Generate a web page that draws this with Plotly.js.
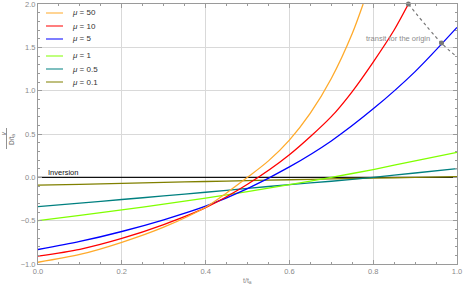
<!DOCTYPE html>
<html><head><meta charset="utf-8">
<script src="https://cdn.plot.ly/plotly-3.0.1.min.js"></script>
<style>html,body{margin:0;padding:0;background:#fff;}</style>
</head><body><div id="chart" style="width:463px;height:287px;"></div>
<script>
// ---- data ----
const t50 = [0, 0.1, 0.2, 0.3, 0.4, 0.45, 0.5, 0.55, 0.6, 0.65, 0.7, 0.75, 0.776];
const v50 = [-0.98, -0.89, -0.75, -0.575, -0.345, -0.18, 0.0, 0.19, 0.43, 0.74, 1.14, 1.66, 2.0];
const t10 = [0, 0.1, 0.2, 0.3, 0.4, 0.5, 0.6, 0.7, 0.75, 0.8, 0.85, 0.884];
const v10 = [-0.909, -0.83, -0.705, -0.545, -0.35, -0.08, 0.26, 0.70, 0.99, 1.33, 1.70, 2.0];
const tGrid = [0, 0.1, 0.2, 0.3, 0.4, 0.5, 0.6, 0.7, 0.8, 0.9, 1.0];
const v5   = [-0.833, -0.74, -0.625, -0.49, -0.333, -0.13, 0.12, 0.42, 0.79, 1.22, 1.73];
const v1   = [-0.5, -0.44, -0.375, -0.31, -0.24, -0.165, -0.085, 0.0, 0.09, 0.19, 0.287];
const v05  = [-0.337, -0.297, -0.256, -0.215, -0.172, -0.128, -0.084, -0.045, 0.0, 0.05, 0.10];
const v01  = [-0.091, -0.081, -0.07, -0.059, -0.048, -0.038, -0.028, -0.018, -0.009, -0.001, 0.008];
const inversionT = [0, 1];
const inversionV = [0, 0];
const transitT = [0.884, 0.963, 1.0];
const transitV = [2.0, 1.549, 1.39];
const transitPtT = [0.884, 0.963];
const transitPtV = [2.0, 1.549];
const legendLabels = ['<i>μ</i> = 50', '<i>μ</i> = 10', '<i>μ</i> = 5', '<i>μ</i> = 1', '<i>μ</i> = 0.5', '<i>μ</i> = 0.1'];
const colors = ['#FFAA2A', '#FF0000', '#0000FF', '#80FF00', '#008080', '#808000'];
const xTicks = [0, 0.2, 0.4, 0.6, 0.8, 1.0];
const xTickText = ['0.0', '0.2', '0.4', '0.6', '0.8', '1.0'];
const yTicks = [-1, -0.5, 0, 0.5, 1, 1.5, 2];
const yTickText = ['\u22121.0', '\u22120.5', '0.0', '0.5', '1.0', '1.5', '2.0'];

// ---- geometry helpers (pixel -> paper) ----
const W = 463, H = 287, ML = 38, MR = 6, MT = 4, MB = 23;
const PW = W - ML - MR, PH = H - MT - MB;
const px = x => (x - ML) / PW;
const py = y => 1 - (y - MT) / PH;

const series = [[t50, v50], [t10, v10], [tGrid, v5], [tGrid, v1], [tGrid, v05], [tGrid, v01]];
const traces = [];
traces.push({x: inversionT, y: inversionV, mode: 'lines', line: {color: '#111', width: 1.2}, hoverinfo: 'skip'});
for (let i = series.length - 1; i >= 0; i--) {
  traces.push({x: series[i][0], y: series[i][1], mode: 'lines',
    line: {color: colors[i], width: 1.3, shape: 'spline', smoothing: 0.8}, hoverinfo: 'skip'});
}
traces.push({x: transitT, y: transitV, mode: 'lines', line: {color: '#777', width: 1.2, dash: 'dot', shape: 'spline'}, hoverinfo: 'skip'});
traces.push({x: transitPtT, y: transitPtV, mode: 'markers', marker: {color: '#777', size: 5}, hoverinfo: 'skip', cliponaxis: false});

const shapes = [], annotations = [];
const rowY = [13, 26, 39, 56, 69, 82];
legendLabels.forEach((lab, i) => {
  shapes.push({type: 'line', xref: 'paper', yref: 'paper', x0: px(46), x1: px(63), y0: py(rowY[i]), y1: py(rowY[i]),
    line: {color: colors[i], width: 2}, opacity: 0.5});
  annotations.push({xref: 'paper', yref: 'paper', x: px(70), y: py(rowY[i]), xanchor: 'left', yanchor: 'middle',
    text: lab, showarrow: false, font: {size: 8, color: '#333'}});
});
annotations.push({xref: 'paper', yref: 'paper', x: px(46), y: py(172.5), xanchor: 'left', yanchor: 'middle',
  text: 'Inversion', showarrow: false, font: {size: 7.5, color: '#111'}});
annotations.push({xref: 'paper', yref: 'paper', x: px(432), y: py(38.5), xanchor: 'right', yanchor: 'middle',
  text: 'transit for the origin', showarrow: false, font: {size: 7.5, color: '#8c8c8c'}});
// y-axis fraction label
annotations.push({xref: 'paper', yref: 'paper', x: px(2.5), y: py(134), xanchor: 'center', yanchor: 'middle',
  text: '<i>v</i>', textangle: -90, showarrow: false, font: {size: 7, color: '#666'}});
annotations.push({xref: 'paper', yref: 'paper', x: px(12), y: py(140), xanchor: 'center', yanchor: 'middle',
  text: 'D/t<sub>a</sub>', textangle: -90, showarrow: false, font: {size: 6.5, color: '#666'}});
shapes.push({type: 'line', xref: 'paper', yref: 'paper', x0: px(6.5), x1: px(6.5), y0: py(128), y1: py(149),
  line: {color: '#777', width: 0.8}});
// x-axis title
annotations.push({xref: 'paper', yref: 'paper', x: px(247), y: py(280.5), xanchor: 'center', yanchor: 'middle',
  text: 't/t<sub>a</sub>', showarrow: false, font: {size: 7, color: '#888'}});

const axisCommon = {showline: true, linecolor: '#9a9a9a', linewidth: 1, mirror: 'ticks', ticks: 'inside',
  tickcolor: '#9a9a9a', ticklen: 4, showgrid: true, gridcolor: '#d9d9d9', gridwidth: 1, zeroline: false,
  ticklabeloverflow: 'allow', tickfont: {size: 7.5, color: '#8a8a8a'}};
const layout = {
  width: W, height: H, margin: {l: ML, r: MR, t: MT, b: MB}, showlegend: false,
  paper_bgcolor: '#fff', plot_bgcolor: '#fff',
  font: {family: 'Liberation Sans, Arial, sans-serif'},
  xaxis: Object.assign({}, axisCommon, {range: [0, 1], tickvals: xTicks, ticktext: xTickText,
    minor: {dtick: 0.05, tick0: 0, ticks: 'inside', ticklen: 2, tickcolor: '#9a9a9a', showgrid: false}}),
  yaxis: Object.assign({}, axisCommon, {range: [-1, 2], tickvals: yTicks, ticktext: yTickText,
    minor: {dtick: 0.1, tick0: 0, ticks: 'inside', ticklen: 2, tickcolor: '#9a9a9a', showgrid: false}}),
  shapes: shapes, annotations: annotations
};
Plotly.newPlot('chart', traces, layout, {staticPlot: true, displayModeBar: false});
</script></body></html>
